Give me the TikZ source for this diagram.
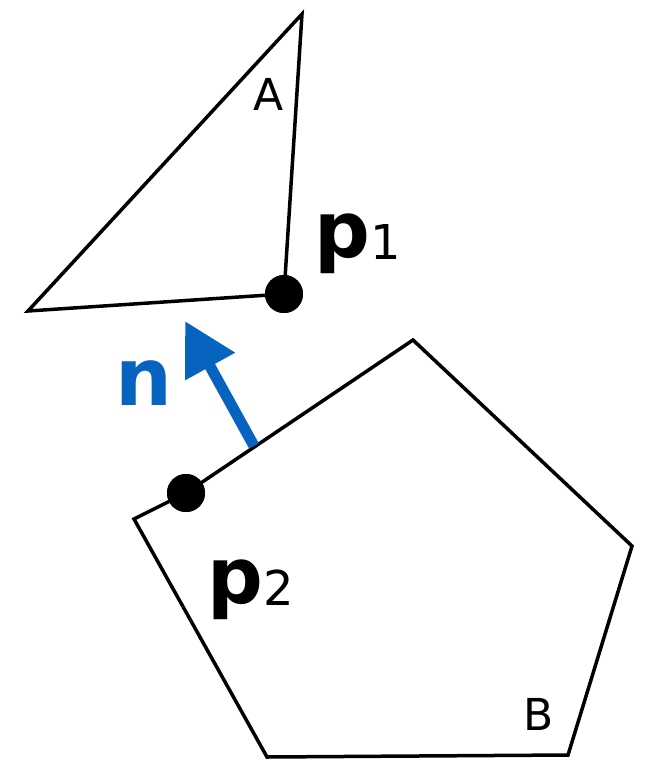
\documentclass[tikz,border=0pt]{standalone}
\usepackage{fontspec}
\setmainfont{DejaVu Sans}
\usetikzlibrary{arrows.meta}
\definecolor{nblue}{RGB}{6,99,192}
\begin{document}
\begin{tikzpicture}[x=1pt,y=-1pt,
  outline/.style={line width=3.5pt, line join=miter, black},
  dotp/.style={circle, fill=black, inner sep=0pt, minimum size=38pt},
  plabel/.style={anchor=base west, inner sep=0pt},
  shapelabel/.style={anchor=base, inner sep=0pt, font=\fontsize{44}{46}\selectfont},
  normal/.style={nblue, line width=11pt, -{Triangle[length=52pt,width=54pt]}}]
\useasboundingbox (0,0) rectangle (649,763);
\coordinate (Atop) at (302,14);
\coordinate (Aleft) at (28,311);
\coordinate (Bl) at (134,519);
\coordinate (Btop) at (413,340);
\coordinate (Bright) at (632,546);
\coordinate (Bbr) at (568,755);
\coordinate (Bbl) at (267,757);
\coordinate (ntail) at (254,446);
\coordinate (ntip) at (185,321);
\node[dotp] (p1) at (284,294) {};
\node[dotp] (p2) at (186,493) {};
\draw[outline] (Atop) -- (p1.center) -- (Aleft) -- cycle;
\draw[outline] (Bl) -- (p2.center) -- (Btop) -- (Bright) -- (Bbr) -- (Bbl) -- cycle;
\node[dotp] at (p1) {};
\node[dotp] at (p2) {};
\draw[normal] (ntail) -- (ntip);
\node[plabel] (lp1) at (314,257) {{\fontsize{78}{80}\selectfont\bfseries p}\raisebox{-2pt}{\fontsize{48}{50}\selectfont 1}};
\node[plabel] (lp2) at (207,603) {{\fontsize{78}{80}\selectfont\bfseries p}\raisebox{-2pt}{\fontsize{48}{50}\selectfont 2}};
\node[plabel, text=nblue] (ln) at (115,405) {\fontsize{80}{82}\selectfont\bfseries n};
\node[shapelabel] (lA) at (269,110) {A};
\node[shapelabel] (lB) at (539,730) {B};
\end{tikzpicture}
\end{document}
